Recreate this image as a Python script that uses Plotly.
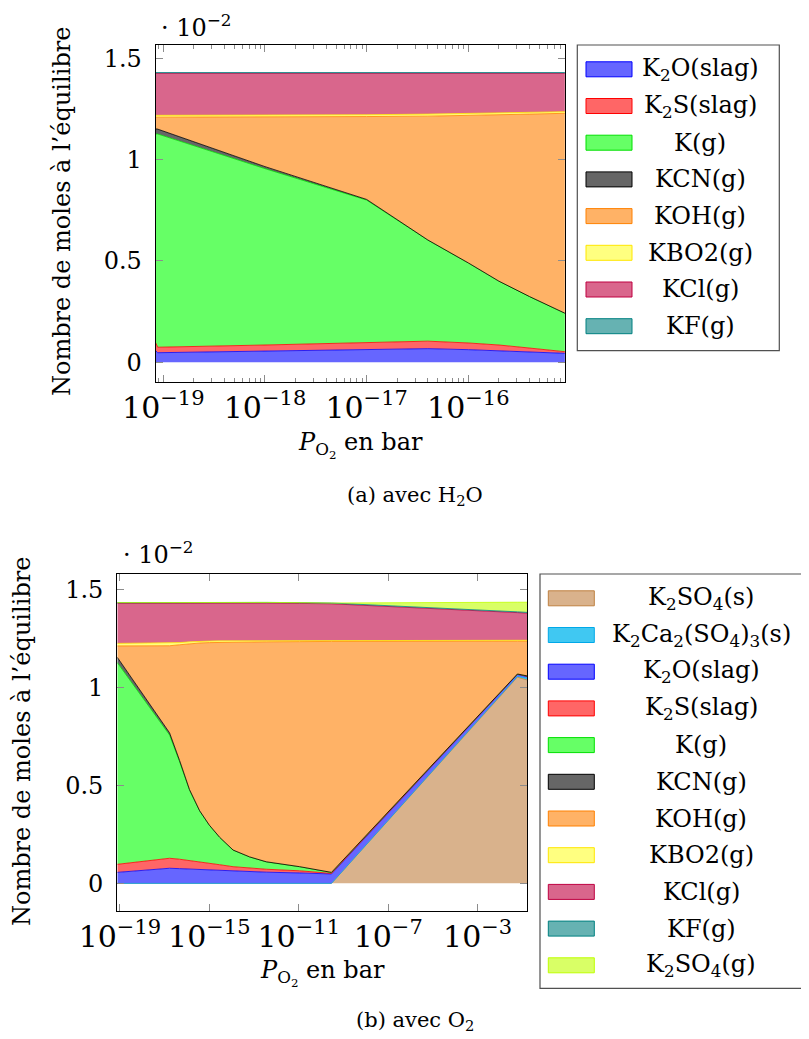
import plotly.graph_objects as go

W, H = 809, 1039          # browser window
OFF = 8                   # page body margin: the figure starts at (8, 8)
FW, FH = W - OFF, H - OFF  # figure size

# ---------------- data (a) avec H2O : moles x 10^-2 ----------------
po2_a = [8.4e-20, 8.8e-20, 1e-18, 1e-17, 4e-17, 1e-16, 2e-16, 4e-16, 8.9e-16]
a_K2O = [0.057, 0.047, 0.055, 0.063, 0.067, 0.062, 0.057, 0.051, 0.044]
a_K2S = [0.040, 0.027, 0.030, 0.034, 0.037, 0.033, 0.028, 0.019, 0.008]
a_K = [1.029, 1.052, 0.870, 0.703, 0.499, 0.395, 0.315, 0.254, 0.190]
a_KCN = [0.025, 0.024, 0.010, 0.003, 0.0, 0.0, 0.0, 0.0, 0.0]
a_KOH = [0.058, 0.059, 0.245, 0.409, 0.611, 0.727, 0.820, 0.900, 0.986]
a_KBO2 = [0.009, 0.009, 0.009, 0.009, 0.010, 0.011, 0.011, 0.010, 0.008]
a_KCl = [0.207, 0.207, 0.206, 0.204, 0.201, 0.197, 0.194, 0.191, 0.189]
a_KF = [0.004, 0.004, 0.004, 0.004, 0.004, 0.004, 0.004, 0.004, 0.004]

# ---------------- data (b) avec O2 : moles x 10^-2 ----------------
po2_b = [7.65e-20, 1.66e-17, 4.7e-17, 1.3e-16, 3.7e-16, 1.0e-15, 2.9e-15, 1.15e-14,
         6.3e-14, 3.5e-13, 1.1e-11, 2.9e-10, 6.0e-2, 0.166]
b_K2SO4s = [0, 0, 0, 0, 0, 0, 0, 0, 0, 0, 0, 0, 1.052, 1.037]
b_K2Ca2 = [0, 0, 0, 0, 0, 0, 0, 0, 0, 0, 0, 0, 0.004, 0.010]
b_K2O = [0.056, 0.077, 0.075, 0.073, 0.071, 0.068, 0.066, 0.062, 0.060, 0.057, 0.053, 0.048, 0.010, 0.008]
b_K2S = [0.041, 0.051, 0.048, 0.044, 0.039, 0.036, 0.029, 0.023, 0.018, 0.015, 0.011, 0.003, 0.001, 0.001]
b_K = [1.029, 0.629, 0.497, 0.359, 0.260, 0.193, 0.140, 0.085, 0.057, 0.038, 0.021, 0.005, 0.001, 0.002]
b_KCN = [0.027, 0.011, 0.006, 0.002, 0, 0, 0, 0, 0, 0, 0, 0, 0, 0]
b_KOH = [0.058, 0.444, 0.591, 0.744, 0.856, 0.931, 0.994, 1.060, 1.096, 1.122, 1.148, 1.178, 0.167, 0.177]
b_KBO2 = [0.013, 0.013, 0.011, 0.010, 0.009, 0.008, 0.008, 0.007, 0.007, 0.006, 0.006, 0.006, 0.005, 0.005]
b_KCl = [0.204, 0.204, 0.201, 0.198, 0.195, 0.194, 0.193, 0.193, 0.192, 0.191, 0.189, 0.186, 0.141, 0.138]
b_KF = [0.004, 0.004, 0.004, 0.004, 0.004, 0.004, 0.004, 0.004, 0.004, 0.004, 0.004, 0.004, 0.004, 0.004]
b_K2SO4g = [0, 0, 0, 0, 0, 0, 0, 0, 0, 0, 0, 0, 0.049, 0.052]

series_a = [
    ("K<sub>2</sub>O(slag)", a_K2O, "K2O"),
    ("K<sub>2</sub>S(slag)", a_K2S, "K2S"),
    ("K(g)", a_K, "K"),
    ("KCN(g)", a_KCN, "KCN"),
    ("KOH(g)", a_KOH, "KOH"),
    ("KBO2(g)", a_KBO2, "KBO2"),
    ("KCl(g)", a_KCl, "KCl"),
    ("KF(g)", a_KF, "KF"),
]
series_b = [
    ("K<sub>2</sub>SO<sub>4</sub>(s)", b_K2SO4s, "K2SO4s"),
    ("K<sub>2</sub>Ca<sub>2</sub>(SO<sub>4</sub>)<sub>3</sub>(s)", b_K2Ca2, "K2Ca2"),
    ("K<sub>2</sub>O(slag)", b_K2O, "K2O"),
    ("K<sub>2</sub>S(slag)", b_K2S, "K2S"),
    ("K(g)", b_K, "K"),
    ("KCN(g)", b_KCN, "KCN"),
    ("KOH(g)", b_KOH, "KOH"),
    ("KBO2(g)", b_KBO2, "KBO2"),
    ("KCl(g)", b_KCl, "KCl"),
    ("KF(g)", b_KF, "KF"),
    ("K<sub>2</sub>SO<sub>4</sub>(g)", b_K2SO4g, "K2SO4g"),
]

# (fill, stroke)
STYLE = {
    "K2O": ("#6666ff", "#0000ff"),
    "K2S": ("#ff6666", "#ff0000"),
    "K": ("#66ff66", "#00e000"),
    "KCN": ("#666666", "#000000"),
    "KOH": ("#ffb266", "#ff8000"),
    "KBO2": ("#ffff80", "#ffe600"),
    "KCl": ("#d9668c", "#bf0040"),
    "KF": ("#66b2b2", "#008080"),
    "K2SO4s": ("#d9b28c", "#bf8040"),
    "K2Ca2": ("#40c8f2", "#00a8e8"),
    "K2SO4g": ("#d9ff66", "#bfff00"),
}

FONT = "DejaVu Serif, serif"
FS = 24

fig = go.Figure()
for name, vals, key in series_a:
    fc, lc = STYLE[key]
    fig.add_trace(go.Scatter(x=po2_a, y=vals, name=name, stackgroup="a", mode="lines",
                             line=dict(color=lc, width=0.8), fillcolor=fc,
                             xaxis="x", yaxis="y", showlegend=False))
for name, vals, key in series_b:
    fc, lc = STYLE[key]
    fig.add_trace(go.Scatter(x=po2_b, y=vals, name=name, stackgroup="b", mode="lines",
                             line=dict(color=lc, width=0.8), fillcolor=fc,
                             xaxis="x2", yaxis="y2", showlegend=False))


def px_x(x):
    return (x - OFF) / FW


def px_y(y):
    return 1 - (y - OFF) / FH


ax_common = dict(showline=True, linecolor="black", linewidth=1.2, mirror="ticks",
                 ticks="inside", tickcolor="#8c8c8c", tickwidth=1, showgrid=False,
                 zeroline=False, automargin=False,
                 tickfont=dict(family=FONT, size=FS, color="black"))

fig.update_layout(
    width=FW, height=FH, margin=dict(l=0, r=0, t=0, b=0, autoexpand=False),
    paper_bgcolor="white", plot_bgcolor="white",
    font=dict(family=FONT, size=FS, color="black"),
    xaxis=dict(type="log", domain=[px_x(155.7), px_x(565)], range=[-19.075, -15.049],
               dtick=1, exponentformat="power", ticklen=7, anchor="y",
               minor=dict(ticks="inside", ticklen=4, tickcolor="#8c8c8c", dtick="D1", showgrid=False),
               ticklabelstandoff=0, **ax_common),
    yaxis=dict(domain=[px_y(381.7), px_y(45)], range=[-0.096, 1.565], anchor="x",
               tickvals=[0, 0.5, 1, 1.5], ticktext=["0", "0.5", "1", "1.5"], ticklen=7,
               ticklabelstandoff=8, **ax_common),
    xaxis2=dict(type="log", domain=[px_x(117.3), px_x(527.3)], range=[-19.116, -0.78],
                dtick=4, tick0=-19, exponentformat="power", ticklen=7, anchor="y2",
                ticklabelstandoff=0, **ax_common),
    yaxis2=dict(domain=[px_y(911), px_y(574)], range=[-0.141, 1.578], anchor="x2",
                tickvals=[0, 0.5, 1, 1.5], ticktext=["0", "0.5", "1", "1.5"], ticklen=7,
                ticklabelstandoff=8, **ax_common),
)

ann = []
shapes = []


def text(x, y, s, size=FS, angle=0):
    ann.append(dict(x=px_x(x), y=px_y(y), xref="paper", yref="paper", text=s, showarrow=False,
                    xanchor="center", yanchor="middle", textangle=angle,
                    font=dict(family=FONT, size=size, color="black")))


# axis titles, multipliers, captions
text(62, 212, "Nombre de moles à l’équilibre", angle=-90)
text(22, 742, "Nombre de moles à l’équilibre", angle=-90)
text(360, 445, "<i>P</i><sub>O<sub>2</sub></sub> en bar")
text(322, 973, "<i>P</i><sub>O<sub>2</sub></sub> en bar")
text(196, 26, "· 10<sup>−2</sup>")
text(158, 553, "· 10<sup>−2</sup>")
text(415, 496, "(a) avec H<sub>2</sub>O", size=21)
text(415, 1021, "(b) avec O<sub>2</sub>", size=21)


def legend(x0, y0, x1, y1, sx0, sx1, tx, row0, step, items):
    shapes.append(dict(type="rect", xref="paper", yref="paper", x0=px_x(x0), x1=px_x(x1),
                       y0=px_y(y1), y1=px_y(y0), line=dict(color="#505050", width=1.2),
                       fillcolor="white"))
    for i, (name, _, key) in enumerate(items):
        fc, lc = STYLE[key]
        yc = row0 + i * step
        shapes.append(dict(type="rect", xref="paper", yref="paper", x0=px_x(sx0), x1=px_x(sx1),
                           y0=px_y(yc + 7.5), y1=px_y(yc - 7.5), line=dict(color=lc, width=1),
                           fillcolor=fc))
        text(tx, yc, name)


legend(577.3, 45, 779.3, 350.7, 586, 632, 700, 69.3, 36.7, series_a)
legend(540, 574, 807, 988.3, 548.3, 594.3, 701, 598.3, 36.7, series_b)

fig.update_layout(annotations=ann, shapes=shapes)
fig.write_html("out.html")
